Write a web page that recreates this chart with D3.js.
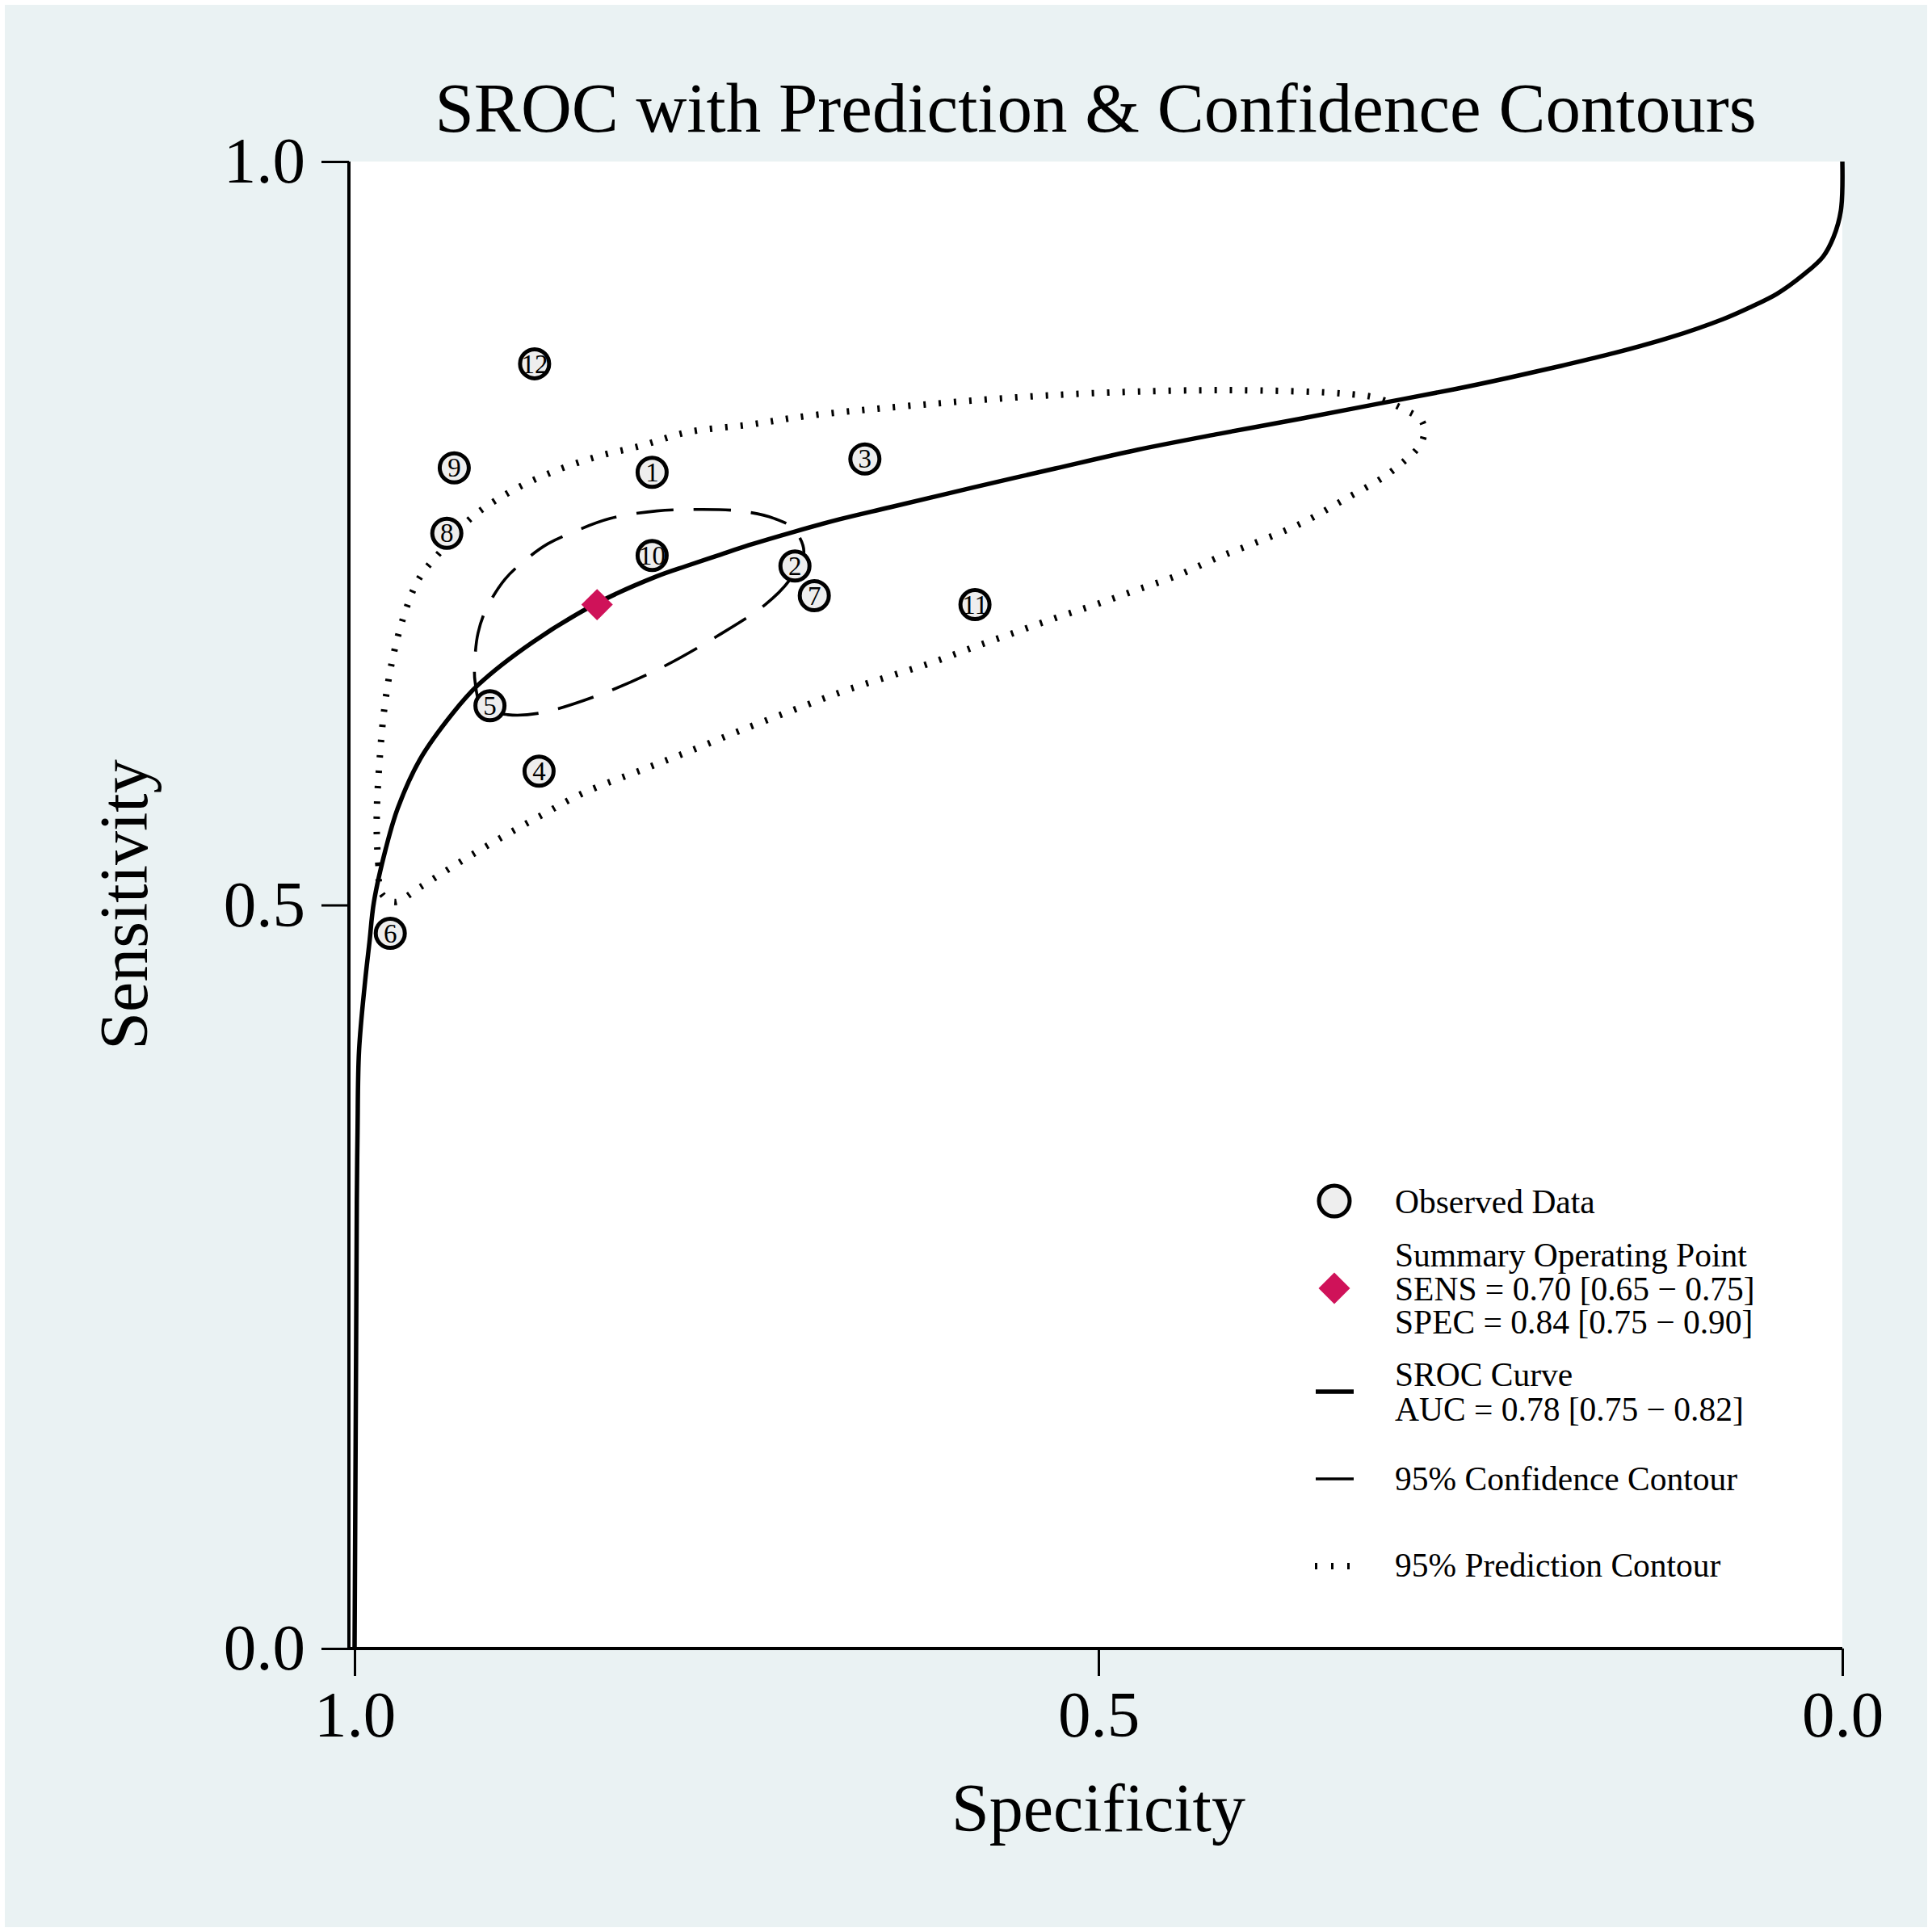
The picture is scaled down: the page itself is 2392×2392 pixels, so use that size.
<!DOCTYPE html>
<html>
<head>
<meta charset="utf-8">
<script src="https://cdn.jsdelivr.net/npm/d3@7"></script>
<style>
  body { margin: 0; background: #ffffff; }
  text { font-family: "Liberation Serif", "Times New Roman", serif; fill: #000; }
</style>
</head>
<body>
<script>
// observed studies
const studyIds  = [1, 2, 3, 4, 5, 6, 7, 8, 9, 10, 11, 12]
const studySpec = [0.800, 0.704, 0.657, 0.876, 0.909, 0.976, 0.691, 0.938, 0.933, 0.800, 0.583, 0.879]
const studySens = [0.791, 0.728, 0.800, 0.590, 0.634, 0.481, 0.708, 0.750, 0.794, 0.735, 0.702, 0.864]

// summary operating point
const summarySpec = 0.837
const summarySens = 0.702

// SROC curve
const srocSpec = [0.000, 0.001, 0.006, 0.013, 0.026, 0.044, 0.062, 0.080, 0.116, 0.153, 0.189, 0.225, 0.261,
                  0.312, 0.363, 0.419, 0.474, 0.529, 0.585, 0.640, 0.674, 0.704, 0.735, 0.756, 0.777, 0.797,
                  0.837, 0.880, 0.917, 0.934, 0.956, 0.971, 0.979, 0.987, 0.990, 0.993, 0.997, 0.998, 0.9985,
                  0.999, 1.000]
const srocSens = [1.000, 0.967, 0.949, 0.936, 0.924, 0.911, 0.902, 0.8941, 0.8816, 0.8713, 0.8626, 0.8544, 0.8468,
                  0.8371, 0.8273, 0.8169, 0.8061, 0.7936, 0.7806, 0.7675, 0.7594, 0.7512, 0.742, 0.735, 0.728, 0.721,
                  0.703, 0.677, 0.648, 0.629, 0.598, 0.565, 0.538, 0.502, 0.475, 0.448, 0.402, 0.348, 0.300,
                  0.197, 0.000]

// 95% confidence contour
const confSpec = [0.698, 0.708, 0.724, 0.756, 0.797, 0.839, 0.876, 0.897, 0.914, 0.919, 0.919, 0.917,
                  0.912, 0.899, 0.884, 0.870, 0.855, 0.828, 0.797, 0.770, 0.741, 0.718, 0.705]
const confSens = [0.737, 0.718, 0.702, 0.681, 0.658, 0.640, 0.629, 0.628, 0.633, 0.650, 0.667, 0.683,
                  0.698, 0.719, 0.733, 0.743, 0.750, 0.760, 0.765, 0.766, 0.765, 0.760, 0.753]

// 95% prediction contour
const predSpec = [0.982, 0.984, 0.985, 0.985, 0.983, 0.980, 0.975, 0.967, 0.957, 0.942, 0.922, 0.897, 0.870,
                  0.839, 0.807, 0.776, 0.735, 0.695, 0.612, 0.529, 0.446, 0.391, 0.336, 0.313, 0.294, 0.283,
                  0.281, 0.284, 0.294, 0.308, 0.336, 0.363, 0.391, 0.419, 0.446, 0.474, 0.502, 0.529, 0.557,
                  0.585, 0.612, 0.640, 0.668, 0.695, 0.739, 0.776, 0.804, 0.847, 0.875, 0.902, 0.929, 0.956, 0.973]
const predSens = [0.508, 0.527, 0.545, 0.565, 0.600, 0.632, 0.663, 0.694, 0.719, 0.738, 0.760, 0.777, 0.790,
                  0.801, 0.809, 0.818, 0.823, 0.829, 0.837, 0.843, 0.846, 0.846, 0.844, 0.841, 0.833, 0.826,
                  0.818, 0.809, 0.799, 0.788, 0.772, 0.757, 0.745, 0.734, 0.722, 0.712, 0.702, 0.693, 0.683,
                  0.673, 0.663, 0.654, 0.645, 0.635, 0.618, 0.603, 0.592, 0.575, 0.560, 0.545, 0.529, 0.512, 0.502]

const axisTicks = [0, 0.5, 1]

const legendLabels = [
    ["Observed Data"],
    ["Summary Operating Point", "SENS = 0.70 [0.65 \u2212 0.75]", "SPEC = 0.84 [0.75 \u2212 0.90]"],
    ["SROC Curve", "AUC = 0.78 [0.75 \u2212 0.82]"],
    ["95% Confidence Contour"],
    ["95% Prediction Contour"]
]

const W = 2392, H = 2392
const plotL = 432, plotR = 2281, plotT = 200, plotB = 2041
const bgColor = "#eaf2f3"
const diamondColor = "#cf1259"

let svg = d3.select("body").append("svg")
            .attr("width", W)
            .attr("height", H)

svg.append("rect")
    .attr("x", 6).attr("y", 6)
    .attr("width", W - 12).attr("height", H - 12)
    .attr("fill", bgColor)

svg.append("rect")
    .attr("x", plotL).attr("y", plotT)
    .attr("width", plotR - plotL).attr("height", plotB - plotT)
    .attr("fill", "#ffffff")

let x = d3.scaleLinear().domain([1, 0]).range([439, plotR])
let y = d3.scaleLinear().domain([0, 1]).range([plotB, plotT])

// axes
let xAxis = svg.append("g")
    .attr("transform", "translate(0," + plotB + ")")
    .call(d3.axisBottom(x).tickValues(axisTicks).tickFormat(d3.format(".1f")).tickSize(34).tickSizeOuter(0))
xAxis.select(".domain").remove()
xAxis.selectAll("line").attr("stroke-width", 3)
xAxis.selectAll("text")
    .attr("dy", null)
    .attr("y", 109)
    .attr("font-size", 81)
    .attr("font-family", "Liberation Serif")

let yAxis = svg.append("g")
    .attr("transform", "translate(" + plotL + ",0)")
    .call(d3.axisLeft(y).tickValues(axisTicks).tickFormat(d3.format(".1f")).tickSize(34).tickPadding(20).tickSizeOuter(0))
yAxis.select(".domain").remove()
yAxis.selectAll("line").attr("stroke-width", 3)
yAxis.selectAll("text")
    .attr("font-size", 81)
    .attr("font-family", "Liberation Serif")

svg.append("line")
    .attr("x1", plotL).attr("x2", plotR)
    .attr("y1", plotB).attr("y2", plotB)
    .attr("stroke", "#000").attr("stroke-width", 4)
svg.append("line")
    .attr("x1", plotL).attr("x2", plotL)
    .attr("y1", plotT).attr("y2", plotB)
    .attr("stroke", "#000").attr("stroke-width", 4)

// titles
svg.append("text")
    .attr("x", (plotL + plotR) / 2).attr("y", 163)
    .attr("text-anchor", "middle")
    .attr("font-size", 87)
    .text("SROC with Prediction & Confidence Contours")

svg.append("text")
    .attr("x", 1360).attr("y", 2267)
    .attr("text-anchor", "middle")
    .attr("font-size", 84)
    .text("Specificity")

svg.append("text")
    .attr("transform", "translate(182,1120) rotate(-90)")
    .attr("text-anchor", "middle")
    .attr("font-size", 84)
    .text("Sensitivity")

// curves
let toPts = (a, b) => a.map((d, i) => [d, b[i]])

let openLine = d3.line().x(d => x(d[0])).y(d => y(d[1])).curve(d3.curveCatmullRom)
let closedLine = d3.line().x(d => x(d[0])).y(d => y(d[1])).curve(d3.curveCatmullRomClosed)

let plot = svg.append("g")

plot.append("path")
    .attr("d", closedLine(toPts(predSpec, predSens)))
    .attr("fill", "none")
    .attr("stroke", "#000")
    .attr("stroke-width", 8)
    .attr("stroke-dasharray", "3 16")

plot.append("path")
    .attr("d", closedLine(toPts(confSpec, confSens)))
    .attr("fill", "none")
    .attr("stroke", "#000")
    .attr("stroke-width", 3.6)
    .attr("stroke-dasharray", "46 25")

plot.append("path")
    .attr("d", openLine(toPts(srocSpec, srocSens)))
    .attr("fill", "none")
    .attr("stroke", "#000")
    .attr("stroke-width", 5.5)

// observed data
let studies = plot.selectAll("g.study")
    .data(studyIds.map((id, i) => ({ id: id, spec: studySpec[i], sens: studySens[i] })))
    .enter()
    .append("g")
        .attr("class", "study")
        .attr("transform", d => "translate(" + x(d.spec) + "," + y(d.sens) + ")")

studies.append("circle")
    .attr("r", 18)
    .attr("fill", "#eeeeee")
    .attr("stroke", "#000")
    .attr("stroke-width", 5)

studies.append("text")
    .attr("text-anchor", "middle")
    .attr("dy", "0.34em")
    .attr("font-size", 33)
    .text(d => d.id)

// summary point
let diamond = d3.symbol().type(d3.symbolDiamond2).size(2 * 22 * 22)
plot.append("path")
    .attr("d", diamond())
    .attr("transform", "translate(" + x(summarySpec) + "," + y(summarySens) + ")")
    .attr("fill", diamondColor)

// legend
let legendBaselines = [[1502], [1568, 1610, 1651], [1716, 1759], [1845], [1952]]
let legendSymbolY = [1487, 1595, 1723, 1831, 1939]
let legend = svg.append("g")

legendLabels.forEach((lines, i) => {
    lines.forEach((t, j) => {
        legend.append("text")
            .attr("x", 1727)
            .attr("y", legendBaselines[i][j])
            .attr("font-size", 41.5)
            .text(t)
    })
})

legend.append("circle")
    .attr("cx", 1652).attr("cy", legendSymbolY[0])
    .attr("r", 19)
    .attr("fill", "#eeeeee")
    .attr("stroke", "#000")
    .attr("stroke-width", 5)

legend.append("path")
    .attr("d", diamond())
    .attr("transform", "translate(1652," + legendSymbolY[1] + ")")
    .attr("fill", diamondColor)

legend.append("line")
    .attr("x1", 1629).attr("x2", 1676)
    .attr("y1", legendSymbolY[2]).attr("y2", legendSymbolY[2])
    .attr("stroke", "#000").attr("stroke-width", 5.5)

legend.append("line")
    .attr("x1", 1629).attr("x2", 1676)
    .attr("y1", legendSymbolY[3]).attr("y2", legendSymbolY[3])
    .attr("stroke", "#000").attr("stroke-width", 3.6)

legend.append("line")
    .attr("x1", 1628).attr("x2", 1676)
    .attr("y1", legendSymbolY[4]).attr("y2", legendSymbolY[4])
    .attr("stroke", "#000").attr("stroke-width", 8)
    .attr("stroke-dasharray", "3 17")
</script>
</body>
</html>
